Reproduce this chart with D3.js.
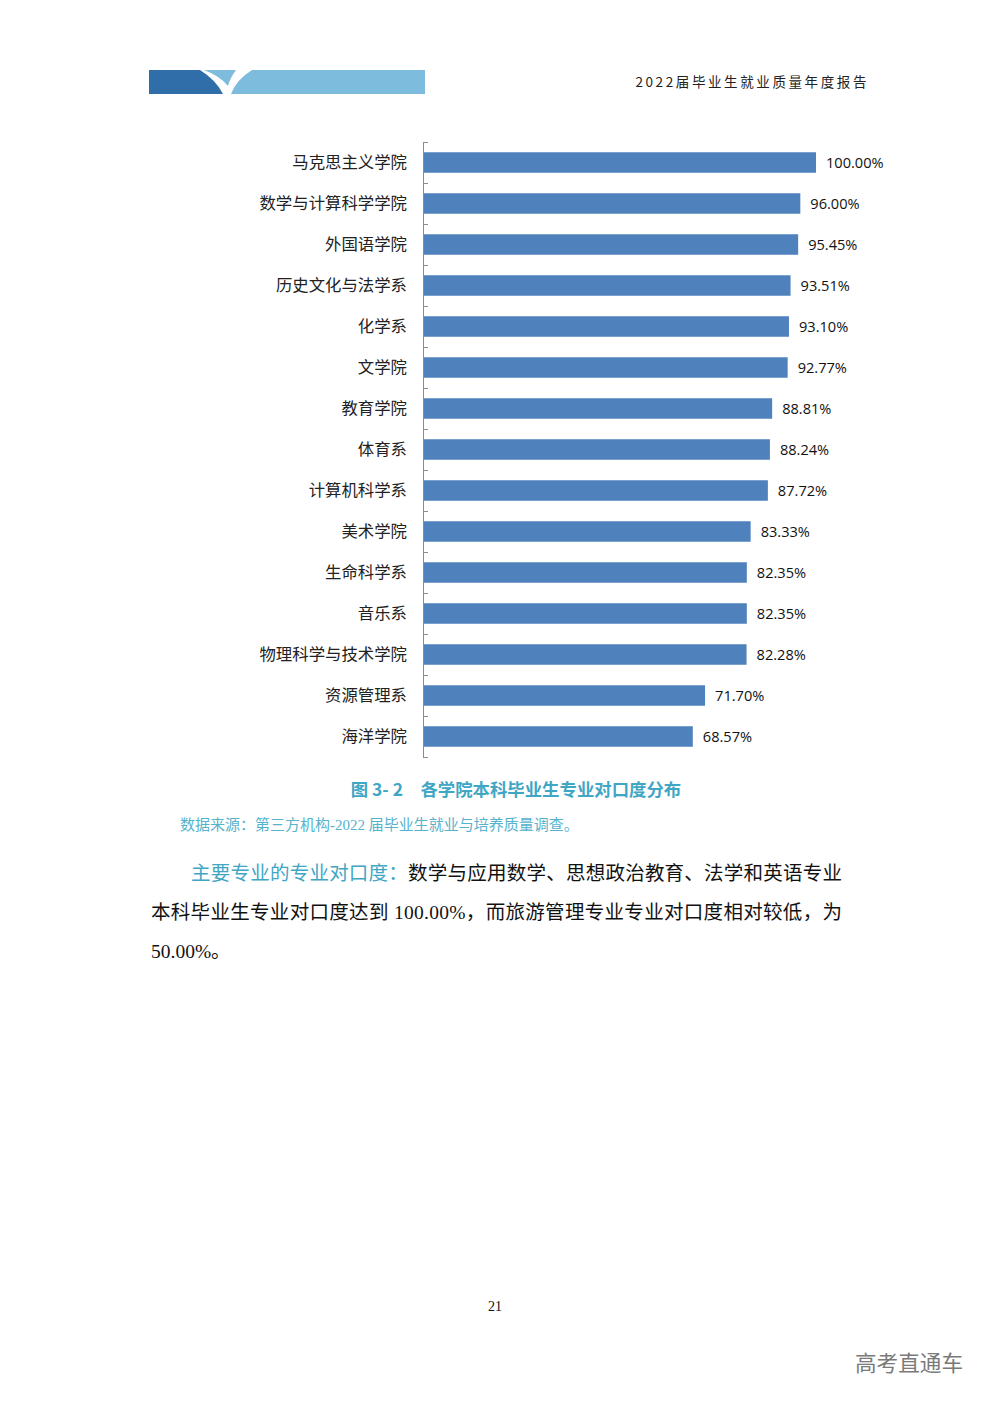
<!DOCTYPE html>
<html>
<head>
<meta charset="utf-8">
<script src="https://cdn.jsdelivr.net/npm/d3@7"></script>
<style>
  html, body { margin: 0; padding: 0; background: #fff; }
  svg { display: block; }
</style>
</head>
<body>
<svg id="svg_elem"></svg>
<script>
//define data
const categories = ['马克思主义学院', '数学与计算科学学院', '外国语学院', '历史文化与法学系', '化学系', '文学院',
  '教育学院', '体育系', '计算机科学系', '美术学院', '生命科学系', '音乐系', '物理科学与技术学院', '资源管理系', '海洋学院'];
const values = [100.00, 96.00, 95.45, 93.51, 93.10, 92.77, 88.81, 88.24, 87.72, 83.33, 82.35, 82.35, 82.28, 71.70, 68.57];
const headerTitle = '2022届毕业生就业质量年度报告';
const figCaption = '图 3- 2　各学院本科毕业生专业对口度分布';
const sourceNote = '数据来源：第三方机构-2022 届毕业生就业与培养质量调查。';
const paraLead = '主要专业的专业对口度：';
const paraLines = ['数学与应用数学、思想政治教育、法学和英语专业',
  '本科毕业生专业对口度达到 100.00%，而旅游管理专业专业对口度相对较低，为',
  '50.00%。'];

//define constants
const svgWidth = 992;
const svgHeight = 1403;
const axisX = 424;
const plotRight = 816;
const plotTop = 142;
const plotBottom = 757;
const serif = '"Liberation Serif", "Noto Sans CJK SC", serif';

const svg = d3.select('#svg_elem')
  .attr('width', svgWidth)
  .attr('height', svgHeight);

//header band
svg.append('path')
  .attr('d', 'M149,70 L200,70 Q216,80 223,94 L149,94 Z')
  .attr('fill', '#2f6ea8');
svg.append('path')
  .attr('d', 'M204,70 L425,70 L425,94 L231,94 Q236,80 252,70 L236,70 Q230,78 228,86 Q220,76 204,70 Z')
  .attr('fill', '#7dbcdd');
svg.append('text')
  .text(headerTitle)
  .attr('x', 869)
  .attr('y', 87)
  .attr('text-anchor', 'end')
  .attr('font-family', '"Noto Sans CJK SC", sans-serif')
  .attr('font-size', 13.5)
  .attr('letter-spacing', 2.6)
  .attr('fill', '#222');

//scales
const xScale = d3.scaleLinear()
  .domain([0, 100])
  .range([axisX, plotRight]);

const yScale = d3.scaleBand()
  .domain(categories)
  .range([plotTop, plotBottom])
  .paddingInner(0.5)
  .paddingOuter(0.25);

const tickScale = d3.scaleLinear()
  .domain([0, categories.length])
  .range([plotTop, plotBottom]);

//bars
const bars = svg.selectAll('.bar')
  .data(categories.map((c, i) => ({cat: c, val: values[i]})))
  .enter()
  .append('g')
  .classed('bar', true);

bars.append('rect')
  .attr('x', xScale(0))
  .attr('y', d => yScale(d.cat))
  .attr('width', d => xScale(d.val) - xScale(0))
  .attr('height', yScale.bandwidth())
  .attr('fill', '#4f81bd');

bars.append('text')
  .text(d => d.val.toFixed(2) + '%')
  .attr('x', d => xScale(d.val) + 10)
  .attr('y', d => yScale(d.cat) + yScale.bandwidth() / 2 + 1.5)
  .attr('dominant-baseline', 'middle')
  .attr('font-family', '"Open Sans", sans-serif')
  .attr('font-size', 14.6)
  .attr('fill', '#111');

//axis with tick marks at band boundaries
const tickAxis = svg.append('g')
  .attr('transform', `translate(${axisX - 1}, 0)`)
  .call(d3.axisRight(tickScale)
    .tickValues(d3.range(categories.length + 1))
    .tickSize(5)
    .tickSizeOuter(0)
    .tickFormat(''));
tickAxis.selectAll('path, line').attr('stroke', '#8c8c8c');

//category labels
const labelAxis = svg.append('g')
  .attr('transform', `translate(${axisX - 1}, 0)`)
  .call(d3.axisLeft(yScale).tickSize(0).tickPadding(16));
labelAxis.select('.domain').remove();
labelAxis.selectAll('text')
  .attr('font-family', serif)
  .attr('font-size', 16.4)
  .attr('fill', '#222');

//caption and source
svg.append('text')
  .text(figCaption)
  .attr('x', 516)
  .attr('y', 796)
  .attr('text-anchor', 'middle')
  .attr('font-family', '"Noto Sans CJK SC", sans-serif')
  .attr('font-weight', 'bold')
  .attr('font-size', 17.4)
  .attr('fill', '#3fa6c4');

svg.append('text')
  .text(sourceNote)
  .attr('x', 180)
  .attr('y', 830)
  .attr('font-family', serif)
  .attr('font-size', 15)
  .attr('fill', '#55b3cc');

//paragraph
const line1 = svg.append('text')
  .attr('x', 191)
  .attr('y', 880)
  .attr('font-family', serif)
  .attr('font-size', 19.5)
  .attr('textLength', 651)
  .attr('lengthAdjust', 'spacing');
line1.append('tspan').text(paraLead).attr('fill', '#3fa6c4');
line1.append('tspan').text(paraLines[0]).attr('fill', '#111');

svg.append('text')
  .text(paraLines[1])
  .attr('x', 151)
  .attr('y', 919)
  .attr('font-family', serif)
  .attr('font-size', 19.5)
  .attr('textLength', 691)
  .attr('lengthAdjust', 'spacing')
  .attr('fill', '#111');

svg.append('text')
  .text(paraLines[2])
  .attr('x', 151)
  .attr('y', 958)
  .attr('font-family', serif)
  .attr('font-size', 19.5)
  .attr('fill', '#111');

//page number and watermark
svg.append('text')
  .text('21')
  .attr('x', 495)
  .attr('y', 1311)
  .attr('text-anchor', 'middle')
  .attr('font-family', serif)
  .attr('font-size', 14)
  .attr('fill', '#111');

svg.append('text')
  .text('高考直通车')
  .attr('x', 963)
  .attr('y', 1371)
  .attr('text-anchor', 'end')
  .attr('font-family', '"Noto Sans CJK SC", sans-serif')
  .attr('font-size', 21.6)
  .attr('fill', '#7a7a7a');
</script>
</body>
</html>
